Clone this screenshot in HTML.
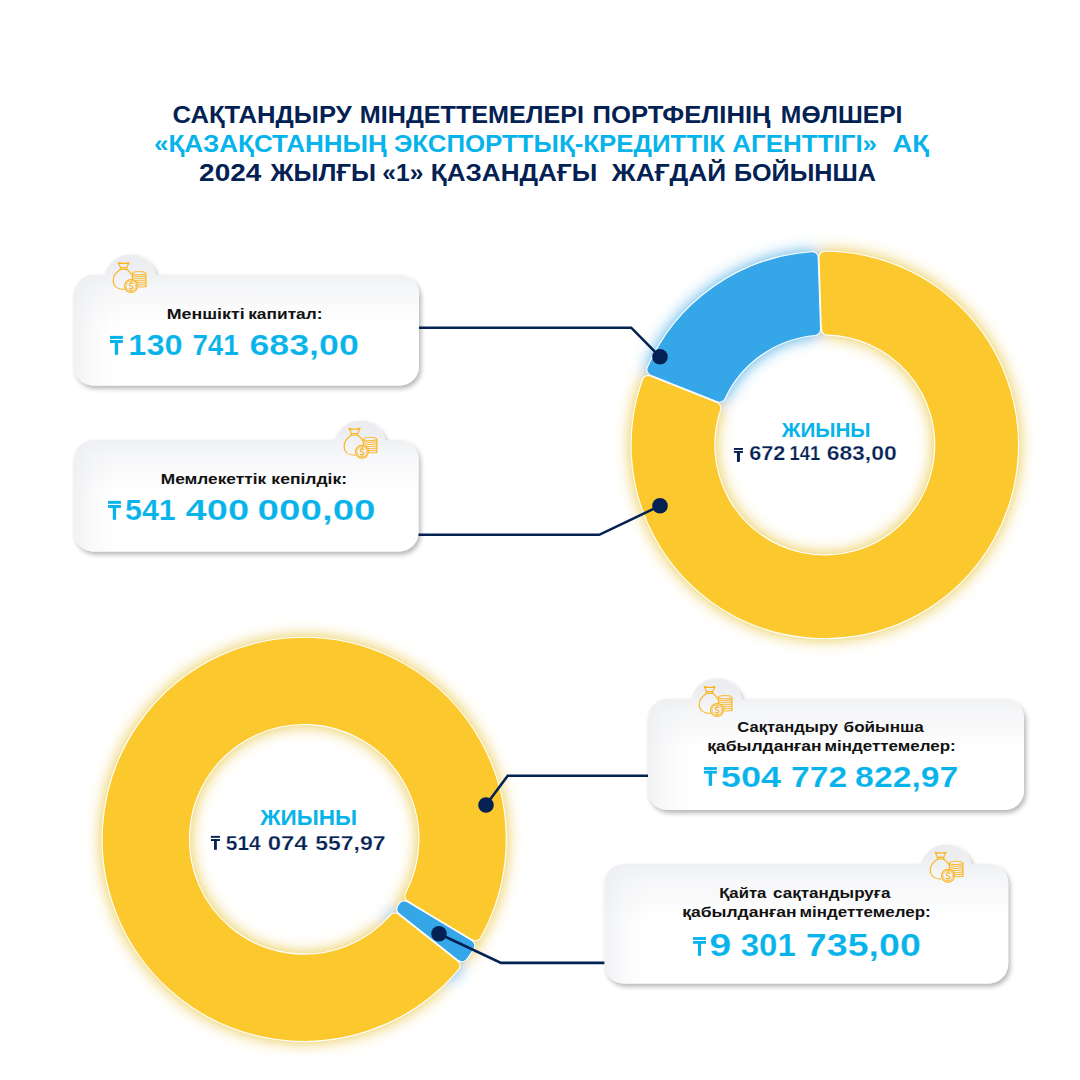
<!DOCTYPE html>
<html><head><meta charset="utf-8"><style>
html,body{margin:0;padding:0;background:#fff;}
svg{display:block;}
text{font-family:"Liberation Sans",sans-serif;font-weight:bold;white-space:pre;}
</style></head><body>
<svg width="1080" height="1080" viewBox="0 0 1080 1080">
<defs><filter id="glow" x="-20%" y="-20%" width="140%" height="140%"><feGaussianBlur stdDeviation="8"/></filter><filter id="shadow" x="-10%" y="-30%" width="120%" height="160%"><feGaussianBlur in="SourceAlpha" stdDeviation="2.5"/><feOffset dx="2" dy="3"/><feComponentTransfer><feFuncA type="linear" slope="0.30"/></feComponentTransfer><feMerge><feMergeNode/><feMergeNode in="SourceGraphic"/></feMerge></filter><linearGradient id="vb1" gradientUnits="userSpaceOnUse" x1="0" y1="265" x2="0" y2="328.04"><stop offset="0" stop-color="#EBEDF0" stop-opacity="1"/><stop offset="0.4" stop-color="#EBEDF0" stop-opacity="0.45"/><stop offset="1" stop-color="#EBEDF0" stop-opacity="0"/></linearGradient><linearGradient id="hb1" gradientUnits="userSpaceOnUse" x1="74" y1="0" x2="116" y2="0"><stop offset="0" stop-color="#EBEDF0" stop-opacity="0.75"/><stop offset="0.45" stop-color="#EBEDF0" stop-opacity="0.28"/><stop offset="1" stop-color="#EBEDF0" stop-opacity="0"/></linearGradient><linearGradient id="vb2" gradientUnits="userSpaceOnUse" x1="0" y1="430" x2="0" y2="493.52"><stop offset="0" stop-color="#EBEDF0" stop-opacity="1"/><stop offset="0.4" stop-color="#EBEDF0" stop-opacity="0.45"/><stop offset="1" stop-color="#EBEDF0" stop-opacity="0"/></linearGradient><linearGradient id="hb2" gradientUnits="userSpaceOnUse" x1="74" y1="0" x2="116" y2="0"><stop offset="0" stop-color="#EBEDF0" stop-opacity="0.75"/><stop offset="0.45" stop-color="#EBEDF0" stop-opacity="0.28"/><stop offset="1" stop-color="#EBEDF0" stop-opacity="0"/></linearGradient><linearGradient id="vb3" gradientUnits="userSpaceOnUse" x1="0" y1="689" x2="0" y2="752.28"><stop offset="0" stop-color="#EBEDF0" stop-opacity="1"/><stop offset="0.4" stop-color="#EBEDF0" stop-opacity="0.45"/><stop offset="1" stop-color="#EBEDF0" stop-opacity="0"/></linearGradient><linearGradient id="hb3" gradientUnits="userSpaceOnUse" x1="648" y1="0" x2="690" y2="0"><stop offset="0" stop-color="#EBEDF0" stop-opacity="0.75"/><stop offset="0.45" stop-color="#EBEDF0" stop-opacity="0.28"/><stop offset="1" stop-color="#EBEDF0" stop-opacity="0"/></linearGradient><linearGradient id="vb4" gradientUnits="userSpaceOnUse" x1="0" y1="854" x2="0" y2="921.36"><stop offset="0" stop-color="#EBEDF0" stop-opacity="1"/><stop offset="0.4" stop-color="#EBEDF0" stop-opacity="0.45"/><stop offset="1" stop-color="#EBEDF0" stop-opacity="0"/></linearGradient><linearGradient id="hb4" gradientUnits="userSpaceOnUse" x1="604.4" y1="0" x2="646.4" y2="0"><stop offset="0" stop-color="#EBEDF0" stop-opacity="0.75"/><stop offset="0.45" stop-color="#EBEDF0" stop-opacity="0.28"/><stop offset="1" stop-color="#EBEDF0" stop-opacity="0"/></linearGradient></defs>
<rect width="1080" height="1080" fill="#fff"/>
<clipPath id="cb1"><rect x="74" y="275" width="345" height="110.5" rx="19.5"/><circle cx="130.2" cy="280.3" r="26"/></clipPath><g filter="url(#shadow)"><rect x="74" y="275" width="345" height="110.5" rx="19.5" fill="#fff"/><circle cx="130.2" cy="280.3" r="26" fill="#fff"/></g><g clip-path="url(#cb1)"><rect x="74" y="254.3" width="345" height="162.5" fill="url(#vb1)"/><rect x="74" y="254.3" width="345" height="162.5" fill="url(#hb1)"/></g>
<clipPath id="cb2"><rect x="74" y="440" width="344.5" height="111.5" rx="19.5"/><circle cx="360.2" cy="446.5" r="26"/></clipPath><g filter="url(#shadow)"><rect x="74" y="440" width="344.5" height="111.5" rx="19.5" fill="#fff"/><circle cx="360.2" cy="446.5" r="26" fill="#fff"/></g><g clip-path="url(#cb2)"><rect x="74" y="420.5" width="344.5" height="163.5" fill="url(#vb2)"/><rect x="74" y="420.5" width="344.5" height="163.5" fill="url(#hb2)"/></g>
<clipPath id="cb3"><rect x="648" y="699" width="376" height="111" rx="19.5"/><circle cx="716.5" cy="704.3" r="26"/></clipPath><g filter="url(#shadow)"><rect x="648" y="699" width="376" height="111" rx="19.5" fill="#fff"/><circle cx="716.5" cy="704.3" r="26" fill="#fff"/></g><g clip-path="url(#cb3)"><rect x="648" y="678.3" width="376" height="163" fill="url(#vb3)"/><rect x="648" y="678.3" width="376" height="163" fill="url(#hb3)"/></g>
<clipPath id="cb4"><rect x="604.4" y="864" width="403.7" height="119.5" rx="19.5"/><circle cx="946.2" cy="870.4" r="26"/></clipPath><g filter="url(#shadow)"><rect x="604.4" y="864" width="403.7" height="119.5" rx="19.5" fill="#fff"/><circle cx="946.2" cy="870.4" r="26" fill="#fff"/></g><g clip-path="url(#cb4)"><rect x="604.4" y="844.4" width="403.7" height="171.5" fill="url(#vb4)"/><rect x="604.4" y="844.4" width="403.7" height="171.5" fill="url(#hb4)"/></g>
<g transform="translate(109.3,258.2)"><g fill="none" stroke="#FBB31B" stroke-width="1.1" stroke-linecap="round" stroke-linejoin="round">
<path d="M8.8,4.4 Q14.3,6.1 19.8,4.4 L17.4,9.5 L11.3,9.5 Z"/>
<path d="M11.4,9.5 L17.4,9.5 L17.6,11.2 L11.2,11.2 Z" stroke-width="1.0"/>
<path d="M11.2,11.3 C6.8,14.0 3.9,18.0 3.9,22.4 C3.9,27.8 8.4,31.0 14.7,31.3"/>
<path d="M17.6,11.3 C19.6,12.7 21.1,14.4 22.2,16.4"/>
<path d="M23.1,15.0 L23.1,22.0 M36.6,15.0 L36.6,28.6"/>
<path d="M36.6,15.0 C36.6,13.9 33.6,13.4 29.85,13.4 C26.1,13.4 23.1,13.9 23.1,15.0 C23.1,16.1 26.1,16.6 29.85,16.6 C32.4,16.6 34.8,16.3 35.9,15.8" stroke-width="1.0"/>
<g stroke-width="0.9"><path d="M23.1,17.6 Q29.85,19.6 36.6,17.6 M23.1,19.7 Q29.85,21.7 36.6,19.7 M23.1,21.8 Q29.85,23.8 36.6,21.8 M26.5,24.3 Q31.5,25.6 36.6,23.9 M28.0,26.4 Q32.3,27.6 36.6,26.0 M28.5,28.6 Q32.5,29.8 36.6,28.1"/></g>
<circle cx="21.7" cy="27.8" r="6.5" fill="#EFF0F3"/>
<circle cx="21.7" cy="27.8" r="5.2" stroke-width="0.75"/>
<path d="M23.7,25.5 C23.1,24.6 20.0,24.5 20.0,26.3 C20.0,28.1 23.7,27.5 23.7,29.4 C23.7,31.2 20.6,31.1 19.9,30.1 M21.85,23.1 L21.85,24.6 M21.85,31.0 L21.85,32.5" stroke-width="1.1"/>
</g></g>
<g transform="translate(340.2,424.0)"><g fill="none" stroke="#FBB31B" stroke-width="1.1" stroke-linecap="round" stroke-linejoin="round">
<path d="M8.8,4.4 Q14.3,6.1 19.8,4.4 L17.4,9.5 L11.3,9.5 Z"/>
<path d="M11.4,9.5 L17.4,9.5 L17.6,11.2 L11.2,11.2 Z" stroke-width="1.0"/>
<path d="M11.2,11.3 C6.8,14.0 3.9,18.0 3.9,22.4 C3.9,27.8 8.4,31.0 14.7,31.3"/>
<path d="M17.6,11.3 C19.6,12.7 21.1,14.4 22.2,16.4"/>
<path d="M23.1,15.0 L23.1,22.0 M36.6,15.0 L36.6,28.6"/>
<path d="M36.6,15.0 C36.6,13.9 33.6,13.4 29.85,13.4 C26.1,13.4 23.1,13.9 23.1,15.0 C23.1,16.1 26.1,16.6 29.85,16.6 C32.4,16.6 34.8,16.3 35.9,15.8" stroke-width="1.0"/>
<g stroke-width="0.9"><path d="M23.1,17.6 Q29.85,19.6 36.6,17.6 M23.1,19.7 Q29.85,21.7 36.6,19.7 M23.1,21.8 Q29.85,23.8 36.6,21.8 M26.5,24.3 Q31.5,25.6 36.6,23.9 M28.0,26.4 Q32.3,27.6 36.6,26.0 M28.5,28.6 Q32.5,29.8 36.6,28.1"/></g>
<circle cx="21.7" cy="27.8" r="6.5" fill="#EFF0F3"/>
<circle cx="21.7" cy="27.8" r="5.2" stroke-width="0.75"/>
<path d="M23.7,25.5 C23.1,24.6 20.0,24.5 20.0,26.3 C20.0,28.1 23.7,27.5 23.7,29.4 C23.7,31.2 20.6,31.1 19.9,30.1 M21.85,23.1 L21.85,24.6 M21.85,31.0 L21.85,32.5" stroke-width="1.1"/>
</g></g>
<g transform="translate(695.3,682.2)"><g fill="none" stroke="#FBB31B" stroke-width="1.1" stroke-linecap="round" stroke-linejoin="round">
<path d="M8.8,4.4 Q14.3,6.1 19.8,4.4 L17.4,9.5 L11.3,9.5 Z"/>
<path d="M11.4,9.5 L17.4,9.5 L17.6,11.2 L11.2,11.2 Z" stroke-width="1.0"/>
<path d="M11.2,11.3 C6.8,14.0 3.9,18.0 3.9,22.4 C3.9,27.8 8.4,31.0 14.7,31.3"/>
<path d="M17.6,11.3 C19.6,12.7 21.1,14.4 22.2,16.4"/>
<path d="M23.1,15.0 L23.1,22.0 M36.6,15.0 L36.6,28.6"/>
<path d="M36.6,15.0 C36.6,13.9 33.6,13.4 29.85,13.4 C26.1,13.4 23.1,13.9 23.1,15.0 C23.1,16.1 26.1,16.6 29.85,16.6 C32.4,16.6 34.8,16.3 35.9,15.8" stroke-width="1.0"/>
<g stroke-width="0.9"><path d="M23.1,17.6 Q29.85,19.6 36.6,17.6 M23.1,19.7 Q29.85,21.7 36.6,19.7 M23.1,21.8 Q29.85,23.8 36.6,21.8 M26.5,24.3 Q31.5,25.6 36.6,23.9 M28.0,26.4 Q32.3,27.6 36.6,26.0 M28.5,28.6 Q32.5,29.8 36.6,28.1"/></g>
<circle cx="21.7" cy="27.8" r="6.5" fill="#EFF0F3"/>
<circle cx="21.7" cy="27.8" r="5.2" stroke-width="0.75"/>
<path d="M23.7,25.5 C23.1,24.6 20.0,24.5 20.0,26.3 C20.0,28.1 23.7,27.5 23.7,29.4 C23.7,31.2 20.6,31.1 19.9,30.1 M21.85,23.1 L21.85,24.6 M21.85,31.0 L21.85,32.5" stroke-width="1.1"/>
</g></g>
<g transform="translate(926.3,847.9)"><g fill="none" stroke="#FBB31B" stroke-width="1.1" stroke-linecap="round" stroke-linejoin="round">
<path d="M8.8,4.4 Q14.3,6.1 19.8,4.4 L17.4,9.5 L11.3,9.5 Z"/>
<path d="M11.4,9.5 L17.4,9.5 L17.6,11.2 L11.2,11.2 Z" stroke-width="1.0"/>
<path d="M11.2,11.3 C6.8,14.0 3.9,18.0 3.9,22.4 C3.9,27.8 8.4,31.0 14.7,31.3"/>
<path d="M17.6,11.3 C19.6,12.7 21.1,14.4 22.2,16.4"/>
<path d="M23.1,15.0 L23.1,22.0 M36.6,15.0 L36.6,28.6"/>
<path d="M36.6,15.0 C36.6,13.9 33.6,13.4 29.85,13.4 C26.1,13.4 23.1,13.9 23.1,15.0 C23.1,16.1 26.1,16.6 29.85,16.6 C32.4,16.6 34.8,16.3 35.9,15.8" stroke-width="1.0"/>
<g stroke-width="0.9"><path d="M23.1,17.6 Q29.85,19.6 36.6,17.6 M23.1,19.7 Q29.85,21.7 36.6,19.7 M23.1,21.8 Q29.85,23.8 36.6,21.8 M26.5,24.3 Q31.5,25.6 36.6,23.9 M28.0,26.4 Q32.3,27.6 36.6,26.0 M28.5,28.6 Q32.5,29.8 36.6,28.1"/></g>
<circle cx="21.7" cy="27.8" r="6.5" fill="#EFF0F3"/>
<circle cx="21.7" cy="27.8" r="5.2" stroke-width="0.75"/>
<path d="M23.7,25.5 C23.1,24.6 20.0,24.5 20.0,26.3 C20.0,28.1 23.7,27.5 23.7,29.4 C23.7,31.2 20.6,31.1 19.9,30.1 M21.85,23.1 L21.85,24.6 M21.85,31.0 L21.85,32.5" stroke-width="1.1"/>
</g></g>
<g transform="rotate(0 824.8 445)"><g filter="url(#glow)" opacity="1.0">
<path d="M652.87,369.69 A187.7,187.7 0 0 1 812.18,257.72 L814.56,329.45 A116.0,116.0 0 0 0 719.55,396.23 Z" fill="#48ADE4" stroke="#48ADE4" stroke-width="13.0" stroke-linejoin="round"/>
<path d="M824.98,257.30 A187.7,187.7 0 1 1 648.14,381.59 L714.82,408.12 A116.0,116.0 0 1 0 827.36,329.03 Z" fill="#E8C540" stroke="#E8C540" stroke-width="13.0" stroke-linejoin="round"/>
</g></g>
<path d="M652.87,369.69 A187.7,187.7 0 0 1 812.18,257.72 L814.56,329.45 A116.0,116.0 0 0 0 719.55,396.23 Z" fill="#fff" stroke="#fff" stroke-width="13.2" stroke-linejoin="round"/>
<path d="M824.98,257.30 A187.7,187.7 0 1 1 648.14,381.59 L714.82,408.12 A116.0,116.0 0 1 0 827.36,329.03 Z" fill="#fff" stroke="#fff" stroke-width="13.2" stroke-linejoin="round"/>
<path d="M652.87,369.69 A187.7,187.7 0 0 1 812.18,257.72 L814.56,329.45 A116.0,116.0 0 0 0 719.55,396.23 Z" fill="#35A6E8" stroke="#35A6E8" stroke-width="11.0" stroke-linejoin="round"/>
<path d="M824.98,257.30 A187.7,187.7 0 1 1 648.14,381.59 L714.82,408.12 A116.0,116.0 0 1 0 827.36,329.03 Z" fill="#FBC92D" stroke="#FBC92D" stroke-width="11.0" stroke-linejoin="round"/>
<g transform="rotate(7 304.2 839.3)"><g filter="url(#glow)" opacity="1.0">
<path d="M468.82,945.68 A196.0,196.0 0 0 1 461.90,955.69 L402.83,909.04 A120.8,120.8 0 0 0 404.30,906.92 Z" fill="#48ADE4" stroke="#48ADE4" stroke-width="13.0" stroke-linejoin="round"/>
<path d="M453.97,965.73 A196.0,196.0 0 1 1 475.41,934.71 L410.90,895.94 A120.8,120.8 0 1 0 394.90,919.09 Z" fill="#E8C540" stroke="#E8C540" stroke-width="13.0" stroke-linejoin="round"/>
</g></g>
<path d="M468.82,945.68 A196.0,196.0 0 0 1 461.90,955.69 L402.83,909.04 A120.8,120.8 0 0 0 404.30,906.92 Z" fill="#fff" stroke="#fff" stroke-width="13.2" stroke-linejoin="round"/>
<path d="M453.97,965.73 A196.0,196.0 0 1 1 475.41,934.71 L410.90,895.94 A120.8,120.8 0 1 0 394.90,919.09 Z" fill="#fff" stroke="#fff" stroke-width="13.2" stroke-linejoin="round"/>
<path d="M468.82,945.68 A196.0,196.0 0 0 1 461.90,955.69 L402.83,909.04 A120.8,120.8 0 0 0 404.30,906.92 Z" fill="#35A6E8" stroke="#35A6E8" stroke-width="11.0" stroke-linejoin="round"/>
<path d="M453.97,965.73 A196.0,196.0 0 1 1 475.41,934.71 L410.90,895.94 A120.8,120.8 0 1 0 394.90,919.09 Z" fill="#FBC92D" stroke="#FBC92D" stroke-width="11.0" stroke-linejoin="round"/>
<path d="M419,327.7 L631.2,327.7 L660,356.8" fill="none" stroke="#042153" stroke-width="2.6" stroke-linejoin="miter"/><circle cx="660" cy="356.8" r="7.8" fill="#042153"/>
<path d="M418.5,534.8 L599.2,534.8 L660,505.8" fill="none" stroke="#042153" stroke-width="2.6" stroke-linejoin="miter"/><circle cx="660" cy="505.8" r="7.8" fill="#042153"/>
<path d="M648,775.8 L507.7,775.8 L486,805" fill="none" stroke="#042153" stroke-width="2.6" stroke-linejoin="miter"/><circle cx="486" cy="805" r="7.8" fill="#042153"/>
<path d="M604.4,962.9 L501,962.9 L439,933.8" fill="none" stroke="#042153" stroke-width="2.6" stroke-linejoin="miter"/><circle cx="439" cy="933.8" r="7.8" fill="#042153"/>
<text x="172.56" y="122.80" font-size="24.6" textLength="179.10" lengthAdjust="spacingAndGlyphs" fill="#042153" >САҚТАНДЫРУ</text>
<text x="359.82" y="122.80" font-size="24.6" textLength="224.16" lengthAdjust="spacingAndGlyphs" fill="#042153" >МІНДЕТТЕМЕЛЕРІ</text>
<text x="592.50" y="122.80" font-size="24.6" textLength="178.10" lengthAdjust="spacingAndGlyphs" fill="#042153" >ПОРТФЕЛІНІҢ</text>
<text x="780.85" y="122.80" font-size="24.6" textLength="121.60" lengthAdjust="spacingAndGlyphs" fill="#042153" >МӨЛШЕРІ</text>
<text x="153.94" y="151.70" font-size="24.6" textLength="232.86" lengthAdjust="spacingAndGlyphs" fill="#06B3EA" >«ҚАЗАҚСТАННЫҢ</text>
<text x="393.92" y="151.70" font-size="24.6" textLength="331.24" lengthAdjust="spacingAndGlyphs" fill="#06B3EA" >ЭКСПОРТТЫҚ-КРЕДИТТІК</text>
<text x="732.35" y="151.70" font-size="24.6" textLength="144.70" lengthAdjust="spacingAndGlyphs" fill="#06B3EA" >АГЕНТТІГІ»</text>
<text x="892.52" y="151.70" font-size="24.6" textLength="36.50" lengthAdjust="spacingAndGlyphs" fill="#06B3EA" >АҚ</text>
<text x="199.13" y="180.60" font-size="24.6" textLength="62.22" lengthAdjust="spacingAndGlyphs" fill="#042153" >2024</text>
<text x="270.47" y="180.60" font-size="24.6" textLength="105.53" lengthAdjust="spacingAndGlyphs" fill="#042153" >ЖЫЛҒЫ</text>
<text x="382.29" y="180.60" font-size="24.6" textLength="41.10" lengthAdjust="spacingAndGlyphs" fill="#042153" >«1»</text>
<text x="430.76" y="180.60" font-size="24.6" textLength="166.49" lengthAdjust="spacingAndGlyphs" fill="#042153" >ҚАЗАНДАҒЫ</text>
<text x="611.88" y="180.60" font-size="24.6" textLength="114.28" lengthAdjust="spacingAndGlyphs" fill="#042153" >ЖАҒДАЙ</text>
<text x="733.92" y="180.60" font-size="24.6" textLength="141.95" lengthAdjust="spacingAndGlyphs" fill="#042153" >БОЙЫНША</text>
<text x="166.71" y="318.70" font-size="15.5" textLength="77.95" lengthAdjust="spacingAndGlyphs" fill="#121212" >Меншікті</text>
<text x="248.20" y="318.70" font-size="15.5" textLength="74.37" lengthAdjust="spacingAndGlyphs" fill="#121212" >капитал:</text>
<text x="128.35" y="354.80" font-size="30.0" textLength="54.28" lengthAdjust="spacingAndGlyphs" fill="#06B3EA"  stroke="#F8F9FA" stroke-width="0.2">130</text>
<text x="192.41" y="354.80" font-size="30.0" textLength="46.37" lengthAdjust="spacingAndGlyphs" fill="#06B3EA"  stroke="#F8F9FA" stroke-width="0.2">741</text>
<text x="249.49" y="354.80" font-size="30.0" textLength="109.27" lengthAdjust="spacingAndGlyphs" fill="#06B3EA"  stroke="#F8F9FA" stroke-width="0.2">683,00</text>
<g fill="#06B3EA"><rect x="110.00" y="335.90" width="12.90" height="3.00"/><rect x="110.00" y="340.00" width="12.90" height="3.00"/><rect x="114.80" y="340.00" width="3.30" height="14.80"/></g>
<text x="160.85" y="483.70" font-size="15.5" textLength="105.24" lengthAdjust="spacingAndGlyphs" fill="#121212" >Мемлекеттік</text>
<text x="271.38" y="483.70" font-size="15.5" textLength="75.70" lengthAdjust="spacingAndGlyphs" fill="#121212" >кепілдік:</text>
<text x="125.07" y="520.00" font-size="30.0" textLength="50.68" lengthAdjust="spacingAndGlyphs" fill="#06B3EA"  stroke="#F8F9FA" stroke-width="0.2">541</text>
<text x="185.62" y="520.00" font-size="30.0" textLength="63.54" lengthAdjust="spacingAndGlyphs" fill="#06B3EA"  stroke="#F8F9FA" stroke-width="0.2">400</text>
<text x="257.57" y="520.00" font-size="30.0" textLength="118.01" lengthAdjust="spacingAndGlyphs" fill="#06B3EA"  stroke="#F8F9FA" stroke-width="0.2">000,00</text>
<g fill="#06B3EA"><rect x="108.00" y="500.90" width="12.90" height="2.90"/><rect x="108.00" y="505.00" width="12.90" height="2.90"/><rect x="112.80" y="505.00" width="3.30" height="14.80"/></g>
<text x="737.32" y="731.80" font-size="15.5" textLength="100.67" lengthAdjust="spacingAndGlyphs" fill="#121212" >Сақтандыру</text>
<text x="843.62" y="731.80" font-size="15.5" textLength="80.18" lengthAdjust="spacingAndGlyphs" fill="#121212" >бойынша</text>
<text x="707.19" y="750.70" font-size="15.5" textLength="114.44" lengthAdjust="spacingAndGlyphs" fill="#121212" >қабылданған</text>
<text x="824.52" y="750.70" font-size="15.5" textLength="131.10" lengthAdjust="spacingAndGlyphs" fill="#121212" >міндеттемелер:</text>
<text x="720.79" y="786.60" font-size="30.0" textLength="60.41" lengthAdjust="spacingAndGlyphs" fill="#06B3EA"  stroke="#F8F9FA" stroke-width="0.2">504</text>
<text x="791.06" y="786.60" font-size="30.0" textLength="56.09" lengthAdjust="spacingAndGlyphs" fill="#06B3EA"  stroke="#F8F9FA" stroke-width="0.2">772</text>
<text x="855.13" y="786.60" font-size="30.0" textLength="103.26" lengthAdjust="spacingAndGlyphs" fill="#06B3EA"  stroke="#F8F9FA" stroke-width="0.2">822,97</text>
<g fill="#06B3EA"><rect x="703.90" y="767.10" width="13.00" height="2.80"/><rect x="703.90" y="770.80" width="13.00" height="2.80"/><rect x="708.70" y="770.80" width="3.40" height="15.00"/></g>
<text x="719.18" y="898.00" font-size="15.5" textLength="47.21" lengthAdjust="spacingAndGlyphs" fill="#121212" >Қайта</text>
<text x="773.03" y="898.00" font-size="15.5" textLength="117.36" lengthAdjust="spacingAndGlyphs" fill="#121212" >сақтандыруға</text>
<text x="682.19" y="916.50" font-size="15.5" textLength="114.44" lengthAdjust="spacingAndGlyphs" fill="#121212" >қабылданған</text>
<text x="799.52" y="916.50" font-size="15.5" textLength="131.10" lengthAdjust="spacingAndGlyphs" fill="#121212" >міндеттемелер:</text>
<text x="709.23" y="956.30" font-size="32.0" textLength="22.05" lengthAdjust="spacingAndGlyphs" fill="#06B3EA"  stroke="#F8F9FA" stroke-width="0.2">9</text>
<text x="740.74" y="956.30" font-size="32.0" textLength="54.97" lengthAdjust="spacingAndGlyphs" fill="#06B3EA"  stroke="#F8F9FA" stroke-width="0.2">301</text>
<text x="805.89" y="956.30" font-size="32.0" textLength="114.96" lengthAdjust="spacingAndGlyphs" fill="#06B3EA"  stroke="#F8F9FA" stroke-width="0.2">735,00</text>
<g fill="#06B3EA"><rect x="693.00" y="937.10" width="13.00" height="2.80"/><rect x="693.00" y="941.00" width="13.00" height="2.80"/><rect x="697.95" y="941.00" width="3.10" height="14.80"/></g>
<text x="781.76" y="437.00" font-size="19.9" textLength="88.82" lengthAdjust="spacingAndGlyphs" fill="#06B3EA" >ЖИЫНЫ</text>
<text x="749.21" y="460.00" font-size="19.9" textLength="36.16" lengthAdjust="spacingAndGlyphs" fill="#042153"  stroke="#fff" stroke-width="0.25">672</text>
<text x="789.44" y="460.00" font-size="19.9" textLength="30.67" lengthAdjust="spacingAndGlyphs" fill="#042153"  stroke="#fff" stroke-width="0.25">141</text>
<text x="826.66" y="460.00" font-size="19.9" textLength="69.98" lengthAdjust="spacingAndGlyphs" fill="#042153"  stroke="#fff" stroke-width="0.25">683,00</text>
<g fill="#042153"><rect x="733.90" y="448.00" width="9.10" height="1.90"/><rect x="733.90" y="451.00" width="9.10" height="1.90"/><rect x="736.95" y="451.00" width="3.00" height="10.90"/></g>
<text x="260.27" y="825.00" font-size="21.5" textLength="96.84" lengthAdjust="spacingAndGlyphs" fill="#06B3EA" >ЖИЫНЫ</text>
<text x="225.76" y="850.00" font-size="21.0" textLength="34.96" lengthAdjust="spacingAndGlyphs" fill="#042153"  stroke="#fff" stroke-width="0.25">514</text>
<text x="267.75" y="850.00" font-size="21.0" textLength="39.87" lengthAdjust="spacingAndGlyphs" fill="#042153"  stroke="#fff" stroke-width="0.25">074</text>
<text x="315.39" y="850.00" font-size="21.0" textLength="70.11" lengthAdjust="spacingAndGlyphs" fill="#042153"  stroke="#fff" stroke-width="0.25">557,97</text>
<g fill="#042153"><rect x="210.90" y="835.90" width="9.10" height="1.90"/><rect x="210.90" y="839.10" width="9.10" height="1.90"/><rect x="214.05" y="839.10" width="2.80" height="10.70"/></g>
</svg></body></html>
